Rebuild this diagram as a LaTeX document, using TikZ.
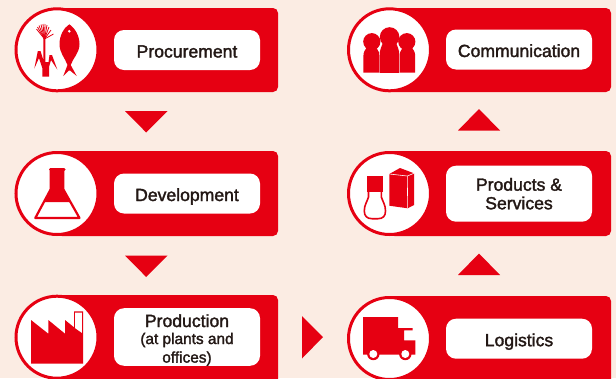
\documentclass[tikz,border=0pt]{standalone}
\usepackage{fontspec}
\newfontfamily\labelfont[FakeBold=1.8]{Liberation Sans}
\usepackage{tikz}
\definecolor{stepred}{RGB}{230,0,18}
\definecolor{paper}{RGB}{251,236,227}
\definecolor{inktext}{RGB}{35,24,21}
\tikzset{
  stepbar/.style={fill=stepred,rounded corners=5},
  ring/.style={fill=white,draw=stepred,line width=3},
  pill/.style={fill=white,rounded corners=10,text=inktext,align=center,inner sep=0pt,minimum width=146,font=\labelfont\fontsize{17.6}{18.6}\selectfont},
  pillone/.style={pill,minimum height=40,text height=15,text depth=0},
  pilltwo/.style={pill,minimum height=56},
  icon/.style={fill=stepred},
  person/.style={fill=stepred,draw=white,line width=0.6},
  flowmark/.style={fill=stepred}
}
\begin{document}
\begin{tikzpicture}[x=1pt,y=-1pt]
\useasboundingbox (0,0) rectangle (616,378);
\fill[paper] (0,0) rectangle (616,378);
% left column
\fill[stepbar] (57,8) rectangle (278,92);
\fill[stepbar] (57,151) rectangle (278,236);
\fill[stepbar] (57,295) rectangle (278,395);
\draw[ring] (57,49.8) circle (41);
\draw[ring] (57,193.5) circle (41);
\draw[ring] (57,337.2) circle (41);
\node[pillone] (procurement) at (187,50) {Procurement};
\node[pillone] (development) at (187,193.5) {Development};
\node[pilltwo] (production) at (187,337) {\rule{0pt}{18.8pt}Production\\[-1.6pt]{\fontsize{15.4}{16.6}\selectfont (at plants and}\\[0pt]{\fontsize{15.4}{16.6}\selectfont offices)}};
% right column
\fill[stepbar] (389.5,8) rectangle (611,92);
\fill[stepbar] (389.5,151) rectangle (611,236);
\fill[stepbar] (389.5,296) rectangle (611,395);
\draw[ring] (389.5,49.8) circle (41);
\draw[ring] (389.5,193.5) circle (41);
\draw[ring] (389.5,338.5) circle (41);
\node[pillone] (communication) at (519,49.5) {Communication};
\node[pilltwo] (products) at (519,193.7) {Products \&\\Services};
\node[pillone] (logistics) at (519,338.7) {Logistics};
% flow marks
\fill[flowmark] (125,111) -- (167.5,111) -- (146.2,132.5) -- cycle;
\fill[flowmark] (125,255.5) -- (167.5,255.5) -- (146.2,277) -- cycle;
\fill[flowmark] (302,316) -- (323,337) -- (302,358.5) -- cycle;
\fill[flowmark] (458,130.5) -- (500,130.5) -- (479,109) -- cycle;
\fill[flowmark] (458,275) -- (500,275) -- (479,253.5) -- cycle;
% fish and reed
\fill[icon] (69.3,24.3) .. controls (75,28) and (79.5,36) .. (79.5,44) .. controls (79.5,53) and (73,58) .. (70.7,65) -- (76.7,76) -- (70,70.5) -- (69,70.5) -- (63.3,76) -- (67.5,65) .. controls (65,58) and (59.5,53) .. (59.5,44) .. controls (59.5,36) and (63.5,28) .. (69.3,24.3) -- cycle;
\fill[white] (69.3,31.3) circle (1.4);
\fill[icon] (34.3,68.5) -- (37.8,51) -- (40.5,51) -- (43.3,60) -- (43.3,38) -- (45.3,38) -- (45.3,62) -- (48.5,62) -- (49.5,55) -- (52,55) -- (57.3,69.5) -- (51,60) -- (49,67) -- (49,76.5) -- (42.3,76.5) -- (42.3,68) -- (39,58) -- cycle;
\foreach \tipx/\tipy in {36.5/29,37.5/27,39/25.5,41/24.5,43/24,45/24,47/25,49/27,51/30,53.5/34}
  \draw[stepred,line width=0.8] (44.5,39) -- (\tipx,\tipy);
% flask
\draw[stepred,line width=2.2,line join=round] (50.7,169) -- (50.7,189.3) -- (35.3,218) -- (79.5,218) -- (63.3,189.3) -- (63.3,169);
\fill[icon] (50.7,169) -- (63.3,169) -- (63.3,189.3) -- (70.8,202) -- (43.7,202) -- (50.7,189.3) -- cycle;
\draw[stepred,line width=3,line cap=round] (50.5,169) -- (64.2,169);
% factory
\fill[icon] (31,320) -- (48.3,333.7) -- (48.3,320) -- (65,333.7) -- (65,320) -- (74,327.3) -- (74,311.3) -- (83,311.3) -- (83,363.7) -- (31,363.7) -- cycle;
\fill[white] (75.2,312.5) -- (81.8,312.5) -- (81.8,332.8) -- (75.2,328.2) -- cycle;
% people
\fill[icon] (371.8,41.7) circle (8.6);
\fill[icon] (406.8,41.7) circle (8.6);
\fill[icon] (363.4,72.7) -- (363.4,56) .. controls (363.4,52) and (365,50) .. (367,47) -- (376,47) -- (381,56) -- (381,72.7) -- cycle;
\fill[icon] (415.2,72.7) -- (415.2,56) .. controls (415.2,52) and (413.6,50) .. (411.6,47) -- (403,47) -- (398,56) -- (398,72.7) -- cycle;
\draw[person] (379.4,72.9) -- (379.4,55) .. controls (379.6,50) and (381,47) .. (383,43) -- (396,43) .. controls (398,47) and (399.4,50) .. (399.4,55) -- (399.4,72.9);
\fill[icon] (379.7,72.7) -- (379.7,55) .. controls (379.9,50) and (381.3,47) .. (383,43) -- (396,43) .. controls (397.7,47) and (399.1,50) .. (399.1,55) -- (399.1,72.7) -- cycle;
\fill[icon] (389.6,37) circle (9.8);
% bottle and carton
\draw[stepred,line width=1.6,fill=white] (368.5,190) -- (368.5,197) .. controls (367,202) and (364.3,205) .. (364.3,211) .. controls (364.3,216) and (367,218.7) .. (372,218.7) -- (378,218.7) .. controls (383,218.7) and (385.5,216) .. (385.5,211) .. controls (385.5,205) and (383,202) .. (381.3,197) -- (381.3,190);
\fill[icon] (366.7,176) rectangle (383.3,191.7);
\fill[icon] (389.3,174) -- (400,168) -- (414,173.3) -- (414,205) -- (407.7,208.3) -- (389.3,205.7) -- cycle;
\draw[white,line width=0.6] (389.3,174) -- (407.3,176) -- (414,173.3);
\draw[white,line width=0.6] (407.3,176) -- (407.7,208.3);
% truck
\fill[icon] (363,317) -- (398,317) -- (398,328) -- (412.7,328) -- (412.7,330.3) -- (404,330.3) -- (404,340.3) -- (415.3,340.3) -- (415.3,354.5) -- (363,354.5) -- cycle;
\fill[icon] (373.3,354) circle (6.2);
\fill[icon] (405.3,354) circle (6.2);
\fill[white] (373.3,354) circle (4);
\fill[white] (405.3,354) circle (4);
\end{tikzpicture}
\end{document}
